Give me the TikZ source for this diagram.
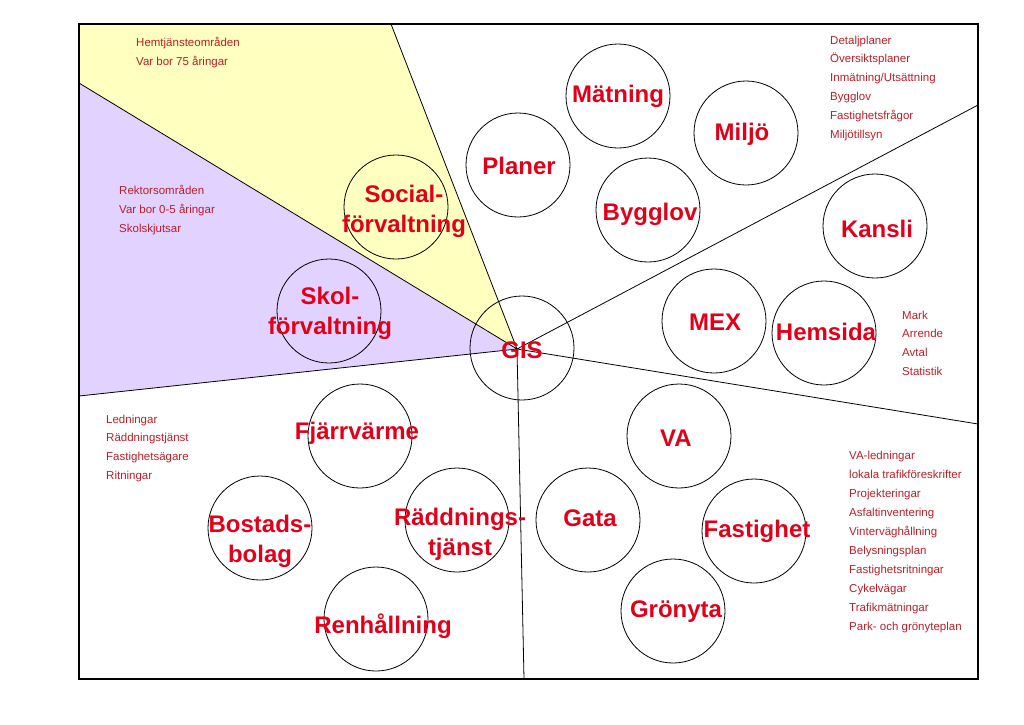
\documentclass[tikz,border=0pt]{standalone}
\usepackage{fontspec}
\setmainfont{Liberation Sans}
\usetikzlibrary{positioning}
\definecolor{gisred}{RGB}{225,0,25}
\definecolor{listred}{RGB}{185,30,40}
\definecolor{wedgeyellow}{RGB}{255,255,192}
\definecolor{wedgepurple}{RGB}{226,210,255}

\begin{document}
\begin{tikzpicture}[x=1pt,y=-1pt,
  ring/.style={draw,circle,minimum size=104pt,inner sep=0pt,line width=0.8pt},
  big/.style={font=\fontsize{24}{30}\selectfont\bfseries,text=gisred,align=center,inner sep=0pt},
  list/.style={font=\fontsize{11.5}{18.9}\selectfont,text=listred,align=left,anchor=base west,inner sep=0pt}]
\useasboundingbox (0,0) rectangle (1024,724);
% sectors
\coordinate (hub) at (517,349);
\coordinate (top) at (391,24);
\coordinate (lefthigh) at (79,83);
\coordinate (leftlow) at (79,396);
\coordinate (righthigh) at (978,105);
\coordinate (rightlow) at (978,424);
\coordinate (bottom) at (524,679);
\fill[wedgeyellow] (top) -- (hub) -- (lefthigh) -- (79,24) -- cycle;
\fill[wedgepurple] (lefthigh) -- (hub) -- (leftlow) -- cycle;
\draw[line width=0.8pt] (hub) -- (top) (hub) -- (lefthigh) (hub) -- (leftlow)
  (hub) -- (righthigh) (hub) -- (rightlow) (hub) -- (bottom);
\draw[line width=2pt] (79,24) rectangle (978,679);
% circles
\node[ring] (gis) at (522,348) {};
\node[ring] (matning) at (618,96) {};
\node[ring] (planer) at (518,165) {};
\node[ring] (bygglov) at (648,210) {};
\node[ring] (miljo) at (746,133) {};
\node[ring] (kansli) at (875,226) {};
\node[ring] (mex) at (714,321) {};
\node[ring] (hemsida) at (824,333) {};
\node[ring] (social) at (396,207) {};
\node[ring] (skol) at (329,311) {};
\node[ring] (fjarr) at (360,436) {};
\node[ring] (bostad) at (260,528) {};
\node[ring] (renhall) at (376,619) {};
\node[ring] (radd) at (457,520) {};
\node[ring] (gata) at (588,520) {};
\node[ring] (gronyta) at (673,611) {};
\node[ring] (va) at (679,436) {};
\node[ring] (fastighet) at (754,531) {};
% labels
\node[big] (gistxt) at (522,350) {GIS};
\node[big] (matningtxt) at (618,96) {Mätning};
\node[big] (planertxt) at (519,166) {Planer};
\node[big] (bygglovtxt) at (650,214) {Bygglov};
\node[big] (miljotxt) at (742,134) {Miljö};
\node[big] (kanslitxt) at (877,229) {Kansli};
\node[big] (mextxt) at (715,322) {MEX};
\node[big] (hemsidatxt) at (826,332) {Hemsida};
\node[big] (socialtxt) at (404,211) {Social-\\förvaltning};
\node[big] (skoltxt) at (330,313) {Skol-\\förvaltning};
\node[big] (fjarrtxt) at (357,433) {Fjärrvärme};
\node[big] (bostadtxt) at (260,541) {Bostads-\\bolag};
\node[big] (renhalltxt) at (383,626) {Renhållning};
\node[big] (raddtxt) at (460,534) {Räddnings-\\tjänst};
\node[big] (gatatxt) at (590,518) {Gata};
\node[big] (gronytatxt) at (676,612) {Grönyta};
\node[big] (vatxt) at (676,438) {VA};
\node[big] (fastighettxt) at (757,531) {Fastighet};
% lists (placed by the baseline of their last line)
\node[list] (hemtjanst) at (136,65) {Hemtjänsteområden\\Var bor 75 åringar};
\node[list] (rektor) at (119,232) {Rektorsområden\\Var bor 0-5 åringar\\Skolskjutsar};
\node[list] (plan) at (830,138.5) {Detaljplaner\\Översiktsplaner\\Inmätning/Utsättning\\Bygglov\\Fastighetsfrågor\\Miljötillsyn};
\node[list] (mark) at (902,375.7) {Mark\\Arrende\\Avtal\\Statistik};
\node[list] (ledning) at (106,479.7) {Ledningar\\Räddningstjänst\\Fastighetsägare\\Ritningar};
\node[list] (teknik) at (849,630) {VA-ledningar\\lokala trafikföreskrifter\\Projekteringar\\Asfaltinventering\\Vinterväghållning\\Belysningsplan\\Fastighetsritningar\\Cykelvägar\\Trafikmätningar\\Park- och grönyteplan};
\end{tikzpicture}
\end{document}
